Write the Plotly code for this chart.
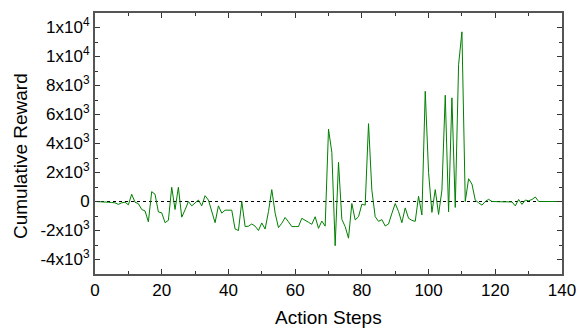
import plotly.graph_objects as go

steps = list(range(0, 141))
reward = [
    0, 0, -20, -20, -50, -70, -90, -200, -90, -50,
    -230, 500, -50, -150, -550, -650, -1400, 680, 500, -720,
    -780, -1460, -1300, 980, -550, 980, -1080, -580, 0, -300,
    -100, 100, -300, 400, 100, -780, -1460, -300, -800, -600,
    -580, -600, -1900, -2000, 0, -1730, -1700, -1550, -1700, -2000,
    -1480, -1900, -700, 820, -800, -1800, -1500, -1100, -1400, -1730,
    -1730, -1730, -1160, -1270, -1430, -1570, -1050, -1850, -1350, -1700,
    4990, 3390, -3050, 2700, -1230, -1730, -2530, -140, -1270, -1050,
    -190, -250, 5370, 770, -1050, -1370, -1250, -1690, -1550, -820,
    -140, -690, -1460, -440, -1160, -1300, -1370, 360, -930, 7600,
    2000, -750, 820, -890, 780, 7330, -710, 7150, -410, 9430,
    11700, 0, 1570, 1200, 90, -90, -250, 0, 150, 0,
    -20, -20, -20, -20, -20, -30, -300, 140, -200, 100,
    50, 140, 310, 0, 0, 0, 0, 0, 0, 0,
    0,
]

y_tickvals = [-4000, -2000, 0, 2000, 4000, 6000, 8000, 10000, 12000]
y_ticktext = ["-4x10<sup>3</sup>", "-2x10<sup>3</sup>", "0", "2x10<sup>3</sup>",
              "4x10<sup>3</sup>", "6x10<sup>3</sup>", "8x10<sup>3</sup>",
              "1x10<sup>4</sup>", "1x10<sup>4</sup>"]
x_tickvals = [0, 20, 40, 60, 80, 100, 120, 140]
x_title = "Action Steps"
y_title = "Cumulative Reward"

font = "Liberation Sans, Arial, sans-serif"

fig = go.Figure()
fig.add_trace(go.Scatter(x=steps, y=reward, mode="lines",
                         line=dict(color="#008000", width=1), showlegend=False))
fig.add_shape(type="line", xref="paper", yref="y", x0=0, x1=1, y0=0, y1=0,
              line=dict(color="black", width=1, dash="dot"), layer="below")

axis_common = dict(showline=True, linecolor="#555555", linewidth=2, mirror="ticks",
                   ticks="inside", ticklen=5, tickwidth=1, tickcolor="#333333",
                   showgrid=False, zeroline=False,
                   tickfont=dict(family=font, size=17, color="black"))

fig.update_xaxes(range=[0, 140], tickmode="array", tickvals=x_tickvals,
                 minor=dict(ticks="inside", dtick=10, ticklen=3, tickcolor="#333333"),
                 **axis_common)
fig.update_yaxes(range=[-5000, 13000], tickmode="array", tickvals=y_tickvals,
                 ticktext=y_ticktext,
                 minor=dict(ticks="inside", dtick=1000, ticklen=3, tickcolor="#333333"),
                 **axis_common)

fig.add_annotation(text=x_title, xref="paper", yref="paper", x=0.5, y=-0.166,
                   xanchor="center", yanchor="middle", showarrow=False,
                   font=dict(family=font, size=19, color="black"))
fig.add_annotation(text=y_title, xref="paper", yref="paper", x=-0.159, y=0.451,
                   xanchor="center", yanchor="middle", showarrow=False, textangle=-90,
                   font=dict(family=font, size=19, color="black"))

fig.update_layout(width=587, height=329, margin=dict(l=95, r=20, t=11, b=55),
                  plot_bgcolor="white", paper_bgcolor="white",
                  font=dict(family=font))

fig.write_html("out.html")
